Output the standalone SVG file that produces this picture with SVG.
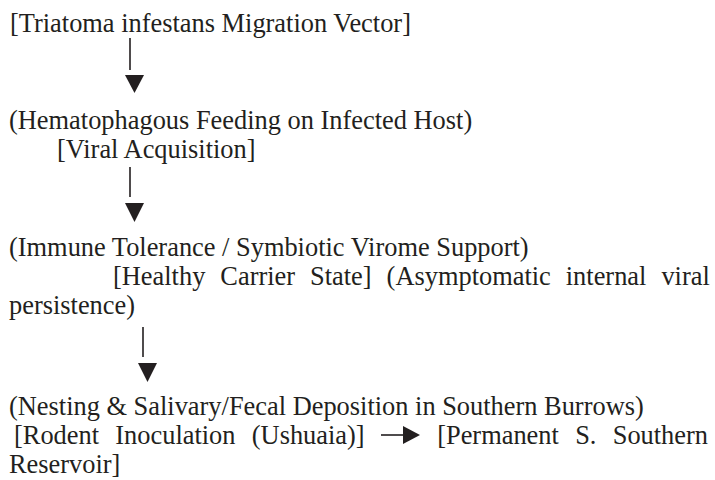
<svg xmlns="http://www.w3.org/2000/svg" width="715" height="480" viewBox="0 0 715 480">
<style>
text{font-family:"Liberation Serif","Times New Roman",serif;font-size:26.4px;fill:#231f20}
.stem{stroke:#231f20;stroke-width:1.6;fill:none}
.head{fill:#231f20}
</style>
<rect width="715" height="480" fill="#ffffff"/>
<g id="vector"><text x="10" y="32">[Triatoma infestans Migration Vector]</text></g>
<g id="feeding"><text x="9" y="129">(Hematophagous Feeding on Infected Host)</text><text x="57" y="158">[Viral Acquisition]</text></g>
<g id="tolerance"><text x="9" y="256">(Immune Tolerance / Symbiotic Virome Support)</text><text x="113" y="285" word-spacing="8.4">[Healthy Carrier State] (Asymptomatic internal viral</text><text x="9" y="314">persistence)</text></g>
<g id="nesting"><text x="9" y="415">(Nesting &amp; Salivary/Fecal Deposition in Southern Burrows)</text></g>
<g id="rodent"><text x="14" y="444" word-spacing="9.7">[Rodent Inoculation (Ushuaia)]</text></g>
<g id="reservoir"><text x="708" y="444" text-anchor="end" word-spacing="9.7">[Permanent S. Southern</text><text x="9" y="473">Reservoir]</text></g>
<g id="connectors">
<line class="stem" x1="130" y1="38" x2="130" y2="70"/><polygon class="head" points="125,75 144,75 134.5,93"/>
<line class="stem" x1="130" y1="167" x2="130" y2="197"/><polygon class="head" points="125,203 144,203 134.5,222"/>
<line class="stem" x1="143" y1="327" x2="143" y2="357"/><polygon class="head" points="138,363 157,363 147.5,382"/>
<line class="stem" x1="381" y1="435" x2="403" y2="435"/><polygon class="head" points="403,426 403,444 420,435"/>
</g>
</svg>
